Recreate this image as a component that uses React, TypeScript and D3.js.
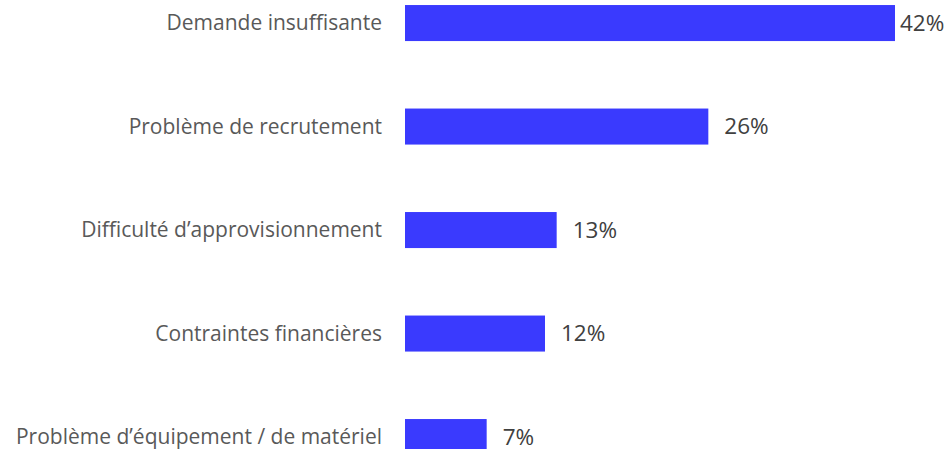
import React from "react";
import * as d3 from "d3";

const categories = [
  "Demande insuffisante",
  "Problème de recrutement",
  "Difficulté d’approvisionnement",
  "Contraintes financières",
  "Problème d’équipement / de matériel",
];
const values = [42, 26, 13, 12, 7];

const W = 952;
const H = 449;

export default function App() {
  const x = d3.scaleLinear().domain([0, 42]).range([405, 895]);
  const y = d3
    .scaleBand<string>()
    .domain(categories)
    .range([-28.7, 488.8])
    .paddingInner(0.652)
    .paddingOuter(0.326);
  const bw = y.bandwidth();
  return (
    <svg
      width={W}
      height={H}
      style={{ position: "absolute", left: 0, top: 0, background: "#fff" }}
    >
      {categories.map((c, i) => {
        const yy = y(c)!;
        return (
          <g key={c}>
            <rect x={x(0)} y={yy} width={x(values[i]) - x(0)} height={bw} fill="#3a3afe" />
            <text
              x={382}
              y={yy + bw / 2}
              dy="0.35em"
              textAnchor="end"
              fontFamily="'Open Sans', sans-serif"
              fontSize={21}
              fill="#595959"
            >
              {c}
            </text>
            <text
              x={x(values[i]) + (i === 0 ? 5 : 16)}
              y={yy + bw / 2}
              dy="0.35em"
              fontFamily="'Open Sans', sans-serif"
              fontSize={22.5}
              fill="#404040"
            >
              {values[i]}%
            </text>
          </g>
        );
      })}
    </svg>
  );
}
